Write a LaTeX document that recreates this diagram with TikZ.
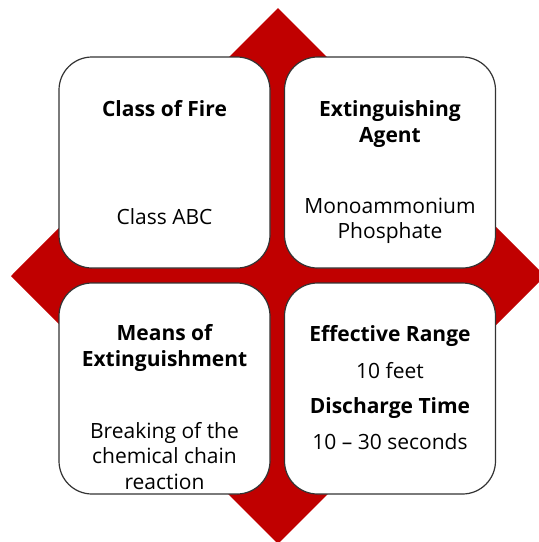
\documentclass[tikz,border=0pt]{standalone}
\usepackage{fontspec}
\setmainfont{Open Sans}
\usepackage{xcolor}
\definecolor{firered}{HTML}{C00000}
\definecolor{cardline}{HTML}{333333}
\tikzset{
    card/.style={draw=cardline,line width=1.2pt,fill=white,rounded corners=33pt,
        minimum width=211pt,minimum height=211pt,inner sep=0pt},
    head/.style={font=\fontsize{21}{26}\selectfont\bfseries,align=center,inner sep=0pt},
    body/.style={font=\fontsize{21}{25.5}\selectfont,align=center,inner sep=0pt},
}
\newcommand{\card}[3] {
    \node[card] (#1) at (#2,#3) {};
}

\begin{document}
\begin{tikzpicture}[x=1pt,y=-1pt]
    \useasboundingbox (0,0) rectangle (539,542);
    \clip (0,0) rectangle (539,542);
    % red diamond behind the cards
    \fill[firered] (278,8) -- (545,276) -- (278,544) -- (11,276) -- cycle;
    \card{fireclass}{164.5}{162.5};
    \card{agent}{390}{162.5};
    \card{means}{164.5}{388.5};
    \card{range}{390}{388.5};
    % top left
    \node[head] (fireclasshead) at (164.5,109) {Class of Fire};
    \node[body] (fireclassbody) at (164.5,216.5) {Class ABC};
    % top right
    \node[head] (agenthead) at (390,124) {Extinguishing\\Agent};
    \node[body] (agentbody) at (390,221) {Monoammonium\\Phosphate};
    % bottom left
    \node[head] (meanshead) at (164.5,348) {Means of\\Extinguishment};
    \node[body] (meansbody) at (164.5,456) {Breaking of the\\chemical chain\\reaction};
    % bottom right
    \node[head] (rangehead) at (390,336) {Effective Range};
    \node[body] (rangebody) at (390,370.5) {10 feet};
    \node[head] (timehead) at (390,408) {Discharge Time};
    \node[body] (timebody) at (390,441.5) {10 -- 30 seconds};
\end{tikzpicture}
\end{document}
